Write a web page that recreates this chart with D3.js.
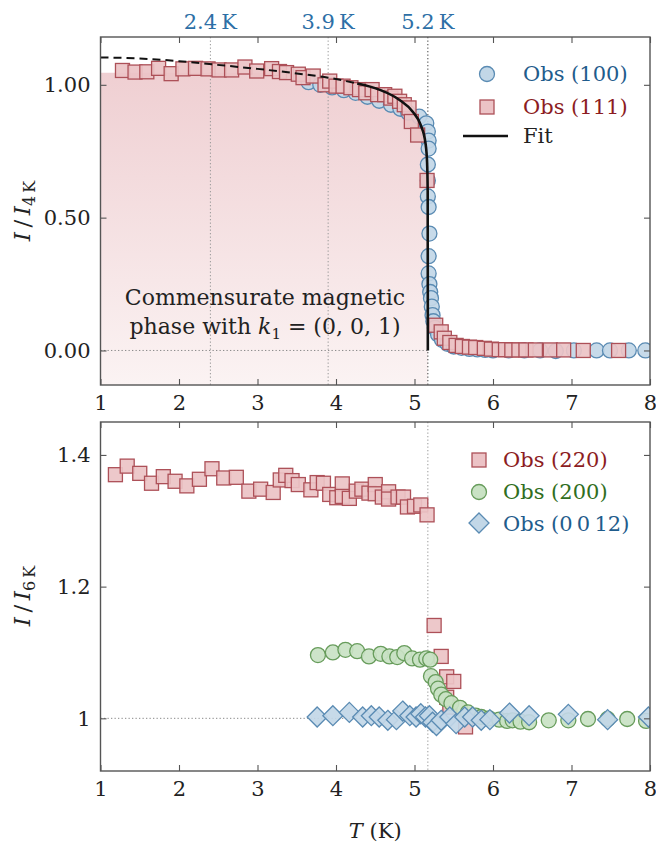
<!DOCTYPE html>
<html>
<head>
<meta charset="utf-8">
<script src="https://cdn.jsdelivr.net/npm/d3@7"></script>
<style>
  body { margin: 0; background: #fff; }
  svg { display: block; }
</style>
</head>
<body>
<div id="chart"></div>
<script>
// ---- data ----
var tTicks = [1, 2, 3, 4, 5, 6, 7, 8];
var topYTicks = [0, 0.5, 1.0];
var botYTicks = [1, 1.2, 1.4];
var botYLabels = ["1", "1.2", "1.4"];
var markT = [2.4, 3.9, 5.17];
var markLabels = ["2.4\u2009K", "3.9\u2009K", "5.2\u2009K"];

// top panel, normalised to 4 K
var obs100 = [[3.65,1.01],[3.8,1.0],[3.95,0.99],[4.1,0.98],[4.25,0.97],[4.4,0.955],[4.55,0.94],[4.7,0.925],
  [4.82,0.91],[4.92,0.895],[5.06,0.88],[5.15,0.855],[5.17,0.824],[5.18,0.79],[5.18,0.76],[5.17,0.70],
  [5.17,0.64],[5.17,0.58],[5.18,0.54],[5.19,0.44],[5.18,0.355],[5.18,0.29],[5.19,0.25],[5.2,0.22],
  [5.21,0.197],[5.22,0.165],[5.23,0.133],[5.24,0.11],[5.26,0.085],[5.3,0.06],[5.35,0.04],[5.42,0.025],
  [5.5,0.015],[5.6,0.01],[5.7,0.006],[5.8,0.004],[5.9,0.002],[6.0,0.0],[6.2,0.0],[6.4,0.0],[6.6,0.0],
  [6.8,-0.002],[7.03,0.0],[7.32,0.0],[7.49,0.0],[7.73,0.0],[7.94,0.0]];
var obs111 = [[1.28,1.054],[1.44,1.048],[1.59,1.049],[1.74,1.062],[1.90,1.042],[2.05,1.06],[2.21,1.062],
  [2.37,1.06],[2.51,1.056],[2.67,1.056],[2.84,1.067],[2.99,1.052],[3.18,1.061],[3.28,1.05],[3.37,1.046],
  [3.52,1.04],[3.58,1.027],[3.71,1.033],[3.86,1.0],[3.92,1.014],[4.0,0.995],[4.09,0.995],[4.19,0.989],
  [4.30,0.982],[4.38,0.97],[4.46,0.982],[4.53,0.963],[4.62,0.963],[4.70,0.95],[4.75,0.957],[4.81,0.938],
  [4.87,0.925],[4.93,0.913],[4.96,0.862],[5.04,0.811],[5.16,0.64],[5.27,0.095],[5.34,0.07],[5.38,0.046],
  [5.45,0.03],[5.53,0.019],[5.61,0.015],[5.70,0.0125],[5.78,0.011],[5.89,0.008],[5.98,0.005],[6.08,0.003],
  [6.16,0.003],[6.24,0.002],[6.33,0.002],[6.42,0.002],[6.54,0.002],[6.73,0.002],[6.9,0.002],[7.15,0.0],[7.6,0.0]];
var fitPts = [[1.0,1.103],[1.5,1.099],[2.0,1.089],[2.42,1.077],[3.0,1.06],[3.5,1.043],[3.9,1.027],[4.27,1.005],
  [4.55,0.982],[4.81,0.943],[4.98,0.898],[5.08,0.848],[5.14,0.78],[5.16,0.71],[5.168,0.6],[5.17,0.0]];
var fitSolidFrom = 4.27;
var shadeCap = 1.045;

// bottom panel, normalised to 6 K
var obs220 = [[1.19,1.370],[1.34,1.383],[1.50,1.372],[1.65,1.357],[1.80,1.367],[1.95,1.360],[2.10,1.353],
  [2.26,1.363],[2.42,1.379],[2.57,1.365],[2.73,1.366],[2.89,1.345],[3.04,1.348],[3.20,1.343],[3.29,1.362],
  [3.36,1.369],[3.44,1.361],[3.52,1.355],[3.68,1.347],[3.76,1.358],[3.84,1.357],[3.92,1.340],[4.01,1.335],
  [4.08,1.356],[4.08,1.337],[4.17,1.334],[4.26,1.345],[4.33,1.348],[4.42,1.342],[4.50,1.355],[4.50,1.341],
  [4.59,1.336],[4.67,1.344],[4.67,1.333],[4.79,1.336],[4.86,1.336],[4.91,1.321],[5.00,1.322],[5.08,1.324],
  [5.16,1.309],[5.25,1.141],[5.34,1.094],[5.41,1.063],[5.50,1.056],[5.41,1.032],[5.45,1.017],[5.65,0.987]];
var obs200 = [[3.77,1.096],[3.96,1.100],[4.12,1.104],[4.27,1.102],[4.42,1.094],[4.57,1.098],[4.68,1.094],
  [4.78,1.093],[4.87,1.099],[4.97,1.091],[5.07,1.089],[5.15,1.091],[5.20,1.089],[5.21,1.064],[5.27,1.055],
  [5.30,1.045],[5.34,1.036],[5.40,1.029],[5.47,1.023],[5.58,1.016],[5.68,1.009],[5.78,1.004],[5.85,1.002],
  [5.95,1.0],[6.08,0.998],[6.18,0.996],[6.25,0.997],[6.35,0.995],[6.46,0.994],[6.71,0.997],[6.96,0.997],
  [7.21,0.999],[7.46,0.999],[7.71,0.999],[7.95,0.996]];
var obs0012 = [[3.76,1.002],[3.96,1.004],[4.17,1.009],[4.34,1.002],[4.45,1.004],[4.55,1.002],[4.66,0.997],
  [4.77,0.998],[4.85,1.011],[4.94,1.004],[5.02,1.002],[5.08,1.007],[5.14,1.002],[5.19,1.004],[5.23,0.994],
  [5.28,0.989],[5.34,0.997],[5.45,1.002],[5.53,0.992],[5.64,1.002],[5.74,1.002],[5.85,0.997],[5.96,0.998],
  [6.21,1.008],[6.46,1.004],[6.96,1.006],[7.46,0.998],[7.98,1.002]];

// ---- layout ----
var W = 656, H = 846;
var FONT = "DejaVu Serif", FS = 21;
var red = "#8c1c22", green = "#2f6e21", blue = "#1f5c8c", markBlue = "#2d6fa6";
var sq = {fill: "#ecc3c6", stroke: "#ad5058"};
var ci = {fill: "#c2d7e7", stroke: "#5a8bb3"};
var gr = {fill: "#c9e2c4", stroke: "#679c5b"};

var x = d3.scaleLinear().domain([1, 8]).range([100.5, 650]);
var yTop = d3.scaleLinear().domain([-0.13, 1.18]).range([385, 37]);
var yBot = d3.scaleLinear().domain([0.92, 1.45]).range([771, 422]);

var svg = d3.select("#chart").append("svg")
    .attr("width", W).attr("height", H)
    .attr("font-family", FONT).attr("font-size", FS);

var defs = svg.append("defs");
var grad = defs.append("linearGradient").attr("id", "pinkfade")
    .attr("x1", 0).attr("y1", 0).attr("x2", 0).attr("y2", 1);
grad.append("stop").attr("offset", 0).attr("stop-color", "#efcfd2");
grad.append("stop").attr("offset", 1).attr("stop-color", "#fbf3f3");

function clip(id, y) {
  defs.append("clipPath").attr("id", id).append("rect")
    .attr("x", x.range()[0]).attr("y", y.range()[1])
    .attr("width", x.range()[1] - x.range()[0])
    .attr("height", y.range()[0] - y.range()[1]);
}
clip("clipTop", yTop);
clip("clipBot", yBot);

function dotted(g, x1, y1, x2, y2, color) {
  g.append("line").attr("x1", x1).attr("y1", y1).attr("x2", x2).attr("y2", y2)
    .attr("stroke", color).attr("stroke-width", 1).attr("stroke-dasharray", "1.3,2.2");
}

function squares(g, data, y, s) {
  g.selectAll(null).data(data).enter().append("rect")
    .attr("x", function (d) { return x(d[0]) - s / 2; })
    .attr("y", function (d) { return y(d[1]) - s / 2; })
    .attr("width", s).attr("height", s)
    .attr("fill", sq.fill).attr("fill-opacity", 0.92)
    .attr("stroke", sq.stroke).attr("stroke-width", 1.3);
}
function circles(g, data, y, r, c) {
  g.selectAll(null).data(data).enter().append("circle")
    .attr("cx", function (d) { return x(d[0]); })
    .attr("cy", function (d) { return y(d[1]); })
    .attr("r", r)
    .attr("fill", c.fill).attr("fill-opacity", 0.92)
    .attr("stroke", c.stroke).attr("stroke-width", 1.3);
}
function diamonds(g, data, y, h) {
  g.selectAll(null).data(data).enter().append("path")
    .attr("d", function (d) {
      var cx = x(d[0]), cy = y(d[1]);
      return "M" + cx + "," + (cy - h) + "L" + (cx + h) + "," + cy + "L" + cx + "," + (cy + h) + "L" + (cx - h) + "," + cy + "Z";
    })
    .attr("fill", ci.fill).attr("fill-opacity", 0.92)
    .attr("stroke", ci.stroke).attr("stroke-width", 1.3);
}

function frameAndAxes(y, yTicks, yFmt) {
  var x0 = x.range()[0], x1 = x.range()[1], yb = y.range()[0], yt = y.range()[1];
  function style(g) {
    g.select(".domain").remove();
    g.selectAll(".tick line").attr("stroke", "#555").attr("stroke-width", 1.1);
    g.selectAll("text").attr("fill", "#222");
    g.attr("font-family", FONT).attr("font-size", FS);
  }
  svg.append("g").attr("transform", "translate(0," + yb + ")")
    .call(d3.axisBottom(x).tickValues(tTicks).tickFormat(d3.format("d")).tickSize(-6).tickPadding(10))
    .call(style);
  svg.append("g").attr("transform", "translate(0," + yt + ")")
    .call(d3.axisTop(x).tickValues(tTicks).tickFormat("").tickSize(-6))
    .call(style);
  svg.append("g").attr("transform", "translate(" + x0 + ",0)")
    .call(d3.axisLeft(y).tickValues(yTicks).tickFormat(yFmt).tickSize(-6).tickPadding(10))
    .call(style);
  svg.append("g").attr("transform", "translate(" + x1 + ",0)")
    .call(d3.axisRight(y).tickValues(yTicks).tickFormat("").tickSize(-6))
    .call(style);
  svg.append("rect").attr("x", x0).attr("y", yt).attr("width", x1 - x0).attr("height", yb - yt)
    .attr("fill", "none").attr("stroke", "#555").attr("stroke-width", 1.4);
}

// ---- top panel ----
var topG = svg.append("g").attr("clip-path", "url(#clipTop)");
var Tc = markT[2];

var shade = fitPts.map(function (d) { return [d[0], Math.min(d[1], shadeCap)]; });
topG.append("path").datum(shade)
  .attr("fill", "url(#pinkfade)")
  .attr("d", d3.area().curve(d3.curveMonotoneX)
    .x(function (d) { return x(d[0]); })
    .y0(yTop(yTop.domain()[0]))
    .y1(function (d) { return yTop(d[1]); }));

markT.forEach(function (t, i) {
  dotted(topG, x(t), yTop.range()[1], x(t), yTop.range()[0], i === 2 ? "#444" : "#999");
});
dotted(topG, x(1), yTop(0), x(Tc), yTop(0), "#888");

circles(topG, obs100, yTop, 7.5, ci);
squares(topG, obs111, yTop, 14);

var fitLine = d3.line().curve(d3.curveMonotoneX)
  .x(function (d) { return x(d[0]); })
  .y(function (d) { return yTop(d[1]); });
topG.append("path").datum(fitPts.filter(function (d) { return d[0] <= fitSolidFrom; }))
  .attr("fill", "none").attr("stroke", "#111").attr("stroke-width", 2)
  .attr("stroke-dasharray", "8,5").attr("d", fitLine);
topG.append("path").datum(fitPts.filter(function (d) { return d[0] >= fitSolidFrom; }))
  .attr("fill", "none").attr("stroke", "#111").attr("stroke-width", 2.6).attr("d", fitLine);

frameAndAxes(yTop, topYTicks, d3.format(".2f"));

svg.selectAll(".mark-label").data(markT).enter().append("text")
  .attr("class", "mark-label")
  .attr("x", function (d) { return x(d); }).attr("y", 29)
  .attr("text-anchor", "middle").attr("fill", markBlue)
  .text(function (d, i) { return markLabels[i]; });

// annotation
var ann = svg.append("text").attr("text-anchor", "middle").attr("fill", "#222").attr("font-size", 22);
ann.append("tspan").attr("x", 265).attr("y", 305).text("Commensurate magnetic");
var l2 = ann.append("tspan").attr("x", 265).attr("y", 334);
l2.append("tspan").text("phase with ");
l2.append("tspan").attr("font-style", "italic").text("k");
l2.append("tspan").attr("font-size", 15).attr("dy", 5).text("1");
l2.append("tspan").attr("dy", -5).text(" = (0, 0, 1)");

// top legend
var lg = svg.append("g");
lg.append("circle").attr("cx", 487).attr("cy", 74).attr("r", 7.5)
  .attr("fill", ci.fill).attr("stroke", ci.stroke).attr("stroke-width", 1.3);
lg.append("text").attr("x", 523).attr("y", 81).attr("fill", blue).text("Obs (100)");
lg.append("rect").attr("x", 480).attr("y", 100).attr("width", 14).attr("height", 14)
  .attr("fill", sq.fill).attr("stroke", sq.stroke).attr("stroke-width", 1.3);
lg.append("text").attr("x", 523).attr("y", 114).attr("fill", red).text("Obs (111)");
lg.append("line").attr("x1", 463).attr("x2", 508).attr("y1", 136).attr("y2", 136)
  .attr("stroke", "#111").attr("stroke-width", 2.6);
lg.append("text").attr("x", 523).attr("y", 143).attr("fill", "#222").text("Fit");

// ---- bottom panel ----
var botG = svg.append("g").attr("clip-path", "url(#clipBot)");
dotted(botG, x(Tc), yBot.range()[1], x(Tc), yBot.range()[0], "#999");
dotted(botG, x(1), yBot(1), x(Tc), yBot(1), "#888");
squares(botG, obs220, yBot, 14);
circles(botG, obs200, yBot, 7.5, gr);
diamonds(botG, obs0012, yBot, 10);

frameAndAxes(yBot, botYTicks, function (d, i) { return botYLabels[i]; });

var lb = svg.append("g");
lb.append("rect").attr("x", 472).attr("y", 453).attr("width", 14).attr("height", 14)
  .attr("fill", sq.fill).attr("stroke", sq.stroke).attr("stroke-width", 1.3);
lb.append("text").attr("x", 503).attr("y", 467).attr("fill", red).text("Obs (220)");
lb.append("circle").attr("cx", 479).attr("cy", 492).attr("r", 7.5)
  .attr("fill", gr.fill).attr("stroke", gr.stroke).attr("stroke-width", 1.3);
lb.append("text").attr("x", 503).attr("y", 499).attr("fill", green).text("Obs (200)");
lb.append("path").attr("d", "M479,513L489,523L479,533L469,523Z")
  .attr("fill", ci.fill).attr("stroke", ci.stroke).attr("stroke-width", 1.3);
lb.append("text").attr("x", 503).attr("y", 531).attr("fill", blue).text("Obs (0\u20090\u200912)");

// ---- axis titles ----
function yTitle(cx, cy, sub) {
  var t = svg.append("text").attr("transform", "translate(" + cx + "," + cy + ") rotate(-90)")
    .attr("text-anchor", "middle").attr("fill", "#222").attr("font-size", 23);
  t.append("tspan").attr("font-style", "italic").text("I");
  t.append("tspan").text("\u2009/\u2009");
  t.append("tspan").attr("font-style", "italic").text("I");
  t.append("tspan").attr("font-size", 16).attr("dy", 5).text(sub);
}
yTitle(30, 211, "4\u2009K");
yTitle(30, 596, "6\u2009K");

var xt = svg.append("text").attr("x", x(4.5)).attr("y", 838).attr("text-anchor", "middle").attr("fill", "#222");
xt.append("tspan").attr("font-style", "italic").text("T");
xt.append("tspan").text(" (K)");
</script>
</body>
</html>
